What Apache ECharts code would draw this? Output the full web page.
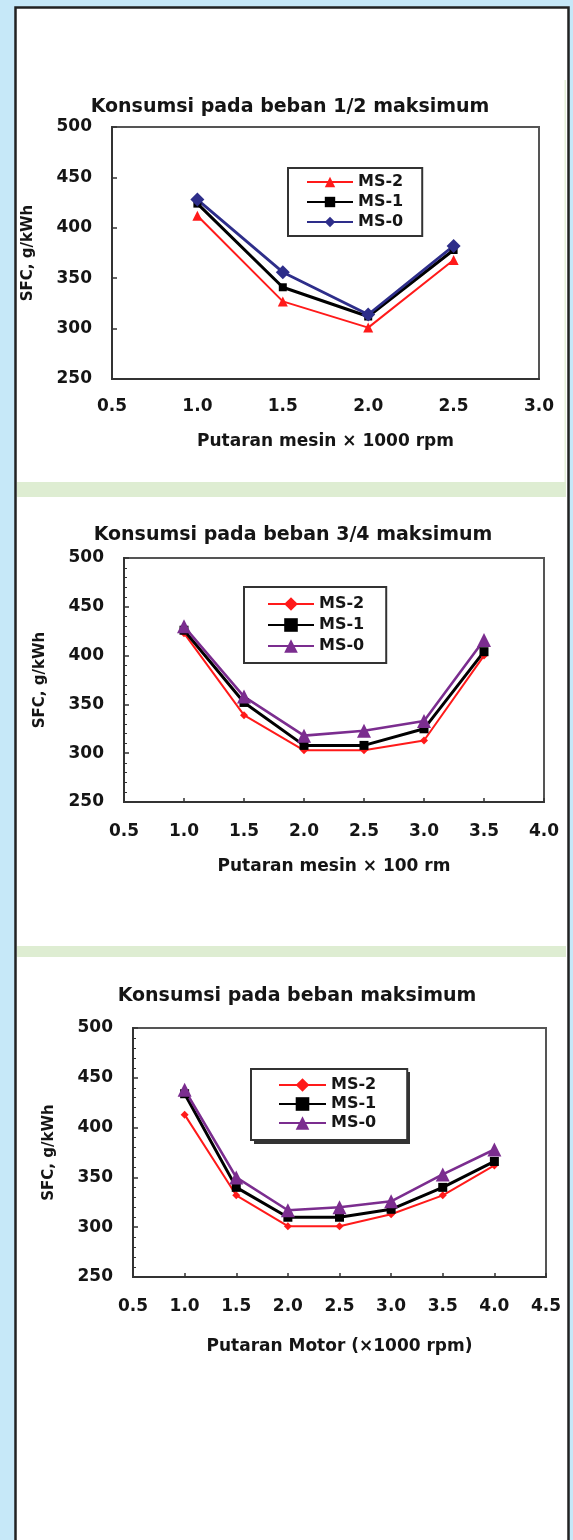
<!DOCTYPE html>
<html>
<head>
<meta charset="utf-8">
<script src="https://cdn.jsdelivr.net/npm/echarts@6/dist/echarts.min.js"></script>
<style>
  html, body { margin: 0; padding: 0; background: #c6e8f8; }
  #chart { width: 573px; height: 1540px; }
</style>
</head>
<body>
<div id="chart"></div>
<script>
// Engine speed (x1000 rpm) for each load case
const speedHalf = [1.0, 1.5, 2.0, 2.5];
const speedThreeQuarter = [1.0, 1.5, 2.0, 2.5, 3.0, 3.5];
const speedFull = [1.0, 1.5, 2.0, 2.5, 3.0, 3.5, 4.0];

// Specific fuel consumption, g/kWh — 1/2 load
const halfMS2 = [412, 327, 301, 368];
const halfMS1 = [424, 341, 312, 378];
const halfMS0 = [428, 356, 314, 382];

// 3/4 load
const threeQuarterMS2 = [423, 339, 303, 303, 313, 400];
const threeQuarterMS1 = [426, 352, 308, 308, 325, 404];
const threeQuarterMS0 = [430, 358, 318, 323, 333, 416];

// Full load
const fullMS2 = [413, 332, 301, 301, 313, 332, 362];
const fullMS1 = [434, 340, 310, 310, 318, 340, 366];
const fullMS0 = [438, 350, 317, 320, 326, 353, 378];

const seriesNames = ['MS-2', 'MS-1', 'MS-0'];
const chartTitles = [
  'Konsumsi pada beban 1/2 maksimum',
  'Konsumsi pada beban 3/4 maksimum',
  'Konsumsi pada beban maksimum'
];
const xAxisTitles = [
  'Putaran mesin \u00d7 1000 rpm',
  'Putaran mesin \u00d7 100 rm',
  'Putaran Motor (\u00d71000 rpm)'
];
const yAxisTitle = 'SFC, g/kWh';
const xMax = [3.0, 4.0, 4.5];

const FONT = 'DejaVu Sans';
const INK = '#151515';

function pairs(xs, ys) { return xs.map((x, i) => [x, ys[i]]); }
// Series ids are unique per panel ("MS-2|1"); only the part before "|" is shown
const key = (name, panel) => name + '|' + panel;
const shown = n => n.split('|')[0];

const grids = [
  { left: 112, top: 127, width: 427, height: 252 },
  { left: 124, top: 558, width: 420, height: 244 },
  { left: 133, top: 1028, width: 413, height: 249 }
];

const frame = { show: true, borderColor: '#555', borderWidth: 2, backgroundColor: 'transparent', containLabel: false };

function makeX(i, gap, labelMargin, ticks) {
  return {
    gridIndex: i, type: 'value', min: 0.5, max: xMax[i], interval: 0.5,
    name: xAxisTitles[i], nameLocation: 'middle', nameGap: gap,
    nameTextStyle: { fontFamily: FONT, fontWeight: 'bold', fontSize: 17, color: INK },
    axisLine: { show: true, lineStyle: { color: '#333', width: 2 } },
    axisTick: { show: ticks, inside: true, length: 4, lineStyle: { color: '#333', width: 1.5 } },
    axisLabel: { margin: labelMargin, fontFamily: FONT, fontWeight: 'bold', fontSize: 17, color: INK,
      formatter: v => v.toFixed(1) },
    splitLine: { show: false }
  };
}

function makeY(i, minor) {
  return {
    gridIndex: i, type: 'value', min: 250, max: 500, interval: 50,
    name: yAxisTitle, nameLocation: 'middle', nameGap: 76,
    nameTextStyle: { fontFamily: FONT, fontWeight: 'bold', fontSize: 15, color: INK },
    axisLine: { show: true, lineStyle: { color: '#333', width: 2 } },
    axisTick: { show: true, inside: true, length: 5, lineStyle: { color: '#333', width: 1.5 } },
    minorTick: { show: minor, splitNumber: 5, length: 3, lineStyle: { color: '#333', width: 1 } },
    axisLabel: { margin: 20, fontFamily: FONT, fontWeight: 'bold', fontSize: 17, color: INK },
    splitLine: { show: false }
  };
}

function line(name, i, data, color, symbol, size, width) {
  return {
    name: key(name, i), type: 'line', xAxisIndex: i, yAxisIndex: i, data,
    symbol, symbolSize: size, showSymbol: true,
    lineStyle: { color, width }, itemStyle: { color },
    emphasis: { disabled: true }, animation: false
  };
}

const legendText = { fontFamily: FONT, fontWeight: 'bold', fontSize: 16, color: INK };
const NAVY = '#2e2e8a';
const PURPLE = '#7b2d8f';
const RED = '#ff1a1a';

function legendFor(panel, extra) {
  return Object.assign({
    orient: 'vertical', data: seriesNames.map(n => key(n, panel)), formatter: shown,
    borderColor: '#333', borderWidth: 2, backgroundColor: '#fff',
    textStyle: legendText, selectedMode: false, itemHeight: 13
  }, extra);
}

const option = {
  backgroundColor: '#c6e8f8',
  animation: false,
  graphic: [
    { type: 'rect', z: -10, shape: { x: 15.5, y: 7.5, width: 553, height: 1560 },
      style: { fill: '#ffffff', stroke: '#222', lineWidth: 2.5 } },
    { type: 'rect', z: -9, shape: { x: 17, y: 482, width: 549, height: 15 }, style: { fill: '#deedd2' } },
    { type: 'rect', z: -9, shape: { x: 17, y: 946, width: 549, height: 11 }, style: { fill: '#deedd2' } },
    { type: 'rect', z: -9, shape: { x: 564.5, y: 80, width: 1.5, height: 402 }, style: { fill: '#e4f0da' } },
    // drop shadow behind the full-load legend box
    { type: 'rect', z: 1, shape: { x: 254, y: 1072, width: 156, height: 72 }, style: { fill: '#333' } }
  ],
  title: chartTitles.map((t, i) => ({
    text: t, left: [285, 288, 292][i], top: [93, 521, 982][i], textAlign: 'center',
    textStyle: { fontFamily: FONT, fontWeight: 'bold', fontSize: 19, color: INK }
  })),
  legend: [
    legendFor(0, { left: 288, top: 168, padding: [6, 19, 6, 18], itemGap: 4, itemWidth: 46 }),
    legendFor(1, { left: 244, top: 587, padding: [9, 22, 9, 23], itemGap: 5, itemWidth: 46, itemHeight: 17 }),
    legendFor(2, { left: 251, top: 1069, padding: [8, 31, 9, 27], itemGap: 3, itemWidth: 47, itemHeight: 17 })
  ],
  grid: grids.map(g => Object.assign({}, frame, g)),
  xAxis: [makeX(0, 54, 19, false), makeX(1, 56, 21, true), makeX(2, 61, 21, true)],
  yAxis: [makeY(0, false), makeY(1, true), makeY(2, true)],
  series: [
    line('MS-2', 0, pairs(speedHalf, halfMS2), RED, 'triangle', 10, 2),
    line('MS-1', 0, pairs(speedHalf, halfMS1), '#000', 'rect', 8, 3),
    line('MS-0', 0, pairs(speedHalf, halfMS0), NAVY, 'diamond', 14, 2.8),

    line('MS-2', 1, pairs(speedThreeQuarter, threeQuarterMS2), RED, 'diamond', 8, 2),
    line('MS-1', 1, pairs(speedThreeQuarter, threeQuarterMS1), '#000', 'rect', 9, 3),
    line('MS-0', 1, pairs(speedThreeQuarter, threeQuarterMS0), PURPLE, 'triangle', 14, 2.6),

    line('MS-2', 2, pairs(speedFull, fullMS2), RED, 'diamond', 8, 2),
    line('MS-1', 2, pairs(speedFull, fullMS1), '#000', 'rect', 9, 3),
    line('MS-0', 2, pairs(speedFull, fullMS0), PURPLE, 'triangle', 14, 2.6)
  ]
};

const chart = echarts.init(document.getElementById('chart'), null, { renderer: 'canvas' });
chart.setOption(option);
</script>
</body>
</html>
